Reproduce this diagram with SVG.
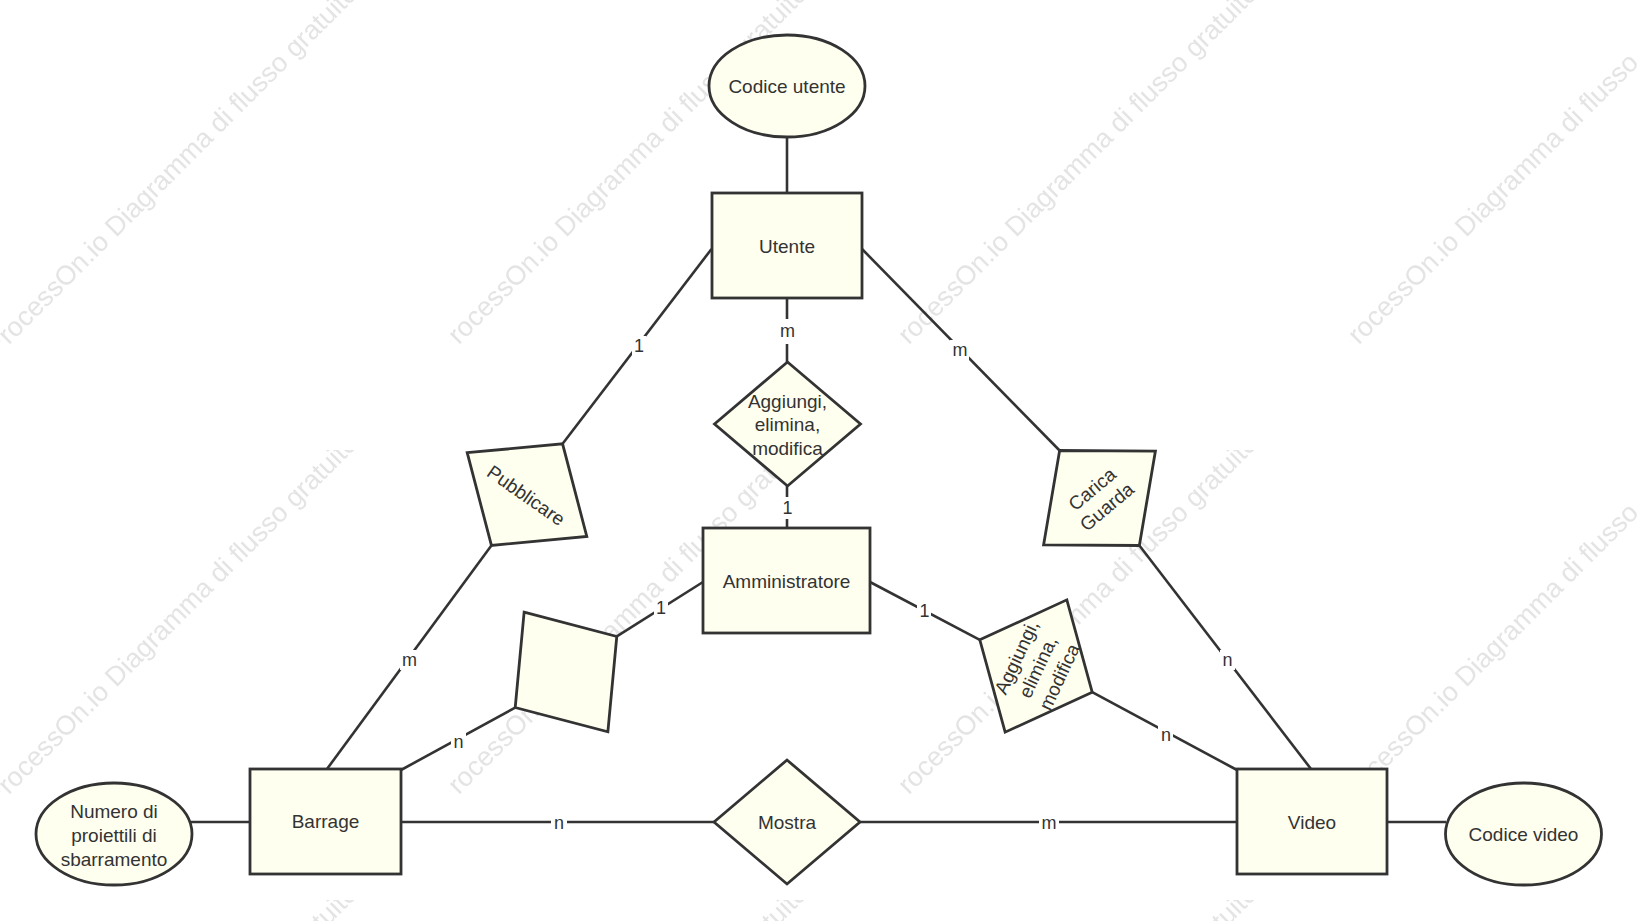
<svg xmlns="http://www.w3.org/2000/svg" width="1638" height="921" viewBox="0 0 1638 921">
<style>
.n{fill:#FFFFF0;stroke:#333;stroke-width:2.8}
.t{font-family:"Liberation Sans",Arial,sans-serif;font-size:19px;fill:#333;text-anchor:middle;dominant-baseline:central}
.c line{stroke:#333;stroke-width:2.6}
.lb{fill:#fff}
.l{font-family:"Liberation Sans",Arial,sans-serif;font-size:18px;fill:#333;text-anchor:middle;dominant-baseline:central}
.wm{font-family:"Liberation Sans",Arial,sans-serif;font-size:27px;fill:#e4e4e4}
</style>
<defs>
<pattern id="wmp" patternUnits="userSpaceOnUse" x="0" y="0" width="450" height="450">
<text class="wm" transform="translate(-4,358) rotate(-45)">ProcessOn.io Diagramma di flusso gratuito</text>
</pattern>
<polygon id="dia" points="-73,0 0,-62 73,0 0,62"/>
</defs>
<rect width="1638" height="921" fill="#fff"/>
<rect width="1638" height="921" fill="url(#wmp)"/>
<g id="connectors" class="c">
<line x1="787" y1="137" x2="787" y2="193"/>
<line x1="787" y1="298" x2="787" y2="362"/>
<line x1="787" y1="486" x2="787" y2="528"/>
<line x1="711.5" y1="249" x2="562.6" y2="443.8"/>
<line x1="491.4" y1="545.4" x2="327" y2="769"/>
<line x1="703" y1="582" x2="616.8" y2="636.4"/>
<line x1="515.2" y1="707.6" x2="401" y2="770"/>
<line x1="862" y1="249" x2="1059.6" y2="450.5"/>
<line x1="1139.4" y1="545.5" x2="1311" y2="769"/>
<line x1="870" y1="582" x2="979.8" y2="639.8"/>
<line x1="1092.2" y1="692.2" x2="1237" y2="770"/>
<line x1="401" y1="822" x2="714" y2="822"/>
<line x1="860" y1="822" x2="1237" y2="822"/>
<line x1="191" y1="822" x2="250" y2="822"/>
<line x1="1387" y1="822" x2="1446" y2="822"/>
<g id="labels">
<rect class="lb" x="778" y="319" width="19" height="25"/><text class="l" x="787.5" y="331">m</text>
<rect class="lb" x="780" y="497" width="15" height="22"/><text class="l" x="787.5" y="508">1</text>
<rect class="lb" x="632" y="336" width="14" height="20"/><text class="l" x="639" y="346">1</text>
<rect class="lb" x="400" y="650" width="19" height="20"/><text class="l" x="409.5" y="660">m</text>
<rect class="lb" x="654" y="598" width="14" height="20"/><text class="l" x="661" y="608">1</text>
<rect class="lb" x="451" y="732" width="15" height="20"/><text class="l" x="458.6" y="742">n</text>
<rect class="lb" x="950" y="340" width="19" height="20"/><text class="l" x="960" y="350">m</text>
<rect class="lb" x="1220" y="650" width="15" height="20"/><text class="l" x="1227.5" y="660">n</text>
<rect class="lb" x="917" y="601" width="14" height="20"/><text class="l" x="924.5" y="611">1</text>
<rect class="lb" x="1158" y="725" width="15" height="20"/><text class="l" x="1166" y="735">n</text>
<rect class="lb" x="551" y="812" width="16" height="22"/><text class="l" x="559" y="823">n</text>
<rect class="lb" x="1039" y="812" width="20" height="22"/><text class="l" x="1049" y="823">m</text>
</g>
</g>
<g id="codice-utente"><ellipse class="n" cx="787" cy="86" rx="78" ry="51"/><text class="t" x="787" y="86">Codice utente</text></g>
<g id="utente"><rect class="n" x="712" y="193" width="150" height="105"/><text class="t" x="787" y="246">Utente</text></g>
<g id="aggiungi-centro"><use href="#dia" class="n" transform="translate(787.5,424)"/>
<text class="t" x="787.5" y="401">Aggiungi,</text><text class="t" x="787.5" y="424.5">elimina,</text><text class="t" x="787.5" y="448">modifica</text></g>
<g id="amministratore"><rect class="n" x="703" y="528" width="167" height="105"/><text class="t" x="786.5" y="581">Amministratore</text></g>
<g id="pubblicare"><use href="#dia" class="n" transform="translate(527,494.6) rotate(35)"/>
<text class="t" transform="translate(526,495.5) rotate(35)">Pubblicare</text></g>
<g id="relazione-vuota"><use href="#dia" class="n" transform="translate(566,672) rotate(55)"/></g>
<g id="carica-guarda"><use href="#dia" class="n" transform="translate(1099.5,498) rotate(-40)"/>
<g transform="translate(1099.5,498) rotate(-40)"><text class="t" x="0" y="-11.5">Carica</text><text class="t" x="0" y="11.5">Guarda</text></g></g>
<g id="aggiungi-destra"><use href="#dia" class="n" transform="translate(1036,666) rotate(-65)"/>
<g transform="translate(1038,667) rotate(-65)"><text class="t" x="0" y="-23.5">Aggiungi,</text><text class="t" x="0" y="0">elimina,</text><text class="t" x="0" y="23.5">modifica</text></g></g>
<g id="barrage"><rect class="n" x="250" y="769" width="151" height="105"/><text class="t" x="325.5" y="821.5">Barrage</text></g>
<g id="numero"><ellipse class="n" cx="114" cy="834" rx="78" ry="51"/>
<text class="t" x="114" y="811">Numero di</text><text class="t" x="114" y="835">proiettili di</text><text class="t" x="114" y="859">sbarramento</text></g>
<g id="mostra"><use href="#dia" class="n" transform="translate(787,822)"/><text class="t" x="787" y="822">Mostra</text></g>
<g id="video"><rect class="n" x="1237" y="769" width="150" height="105"/><text class="t" x="1312" y="822">Video</text></g>
<g id="codice-video"><ellipse class="n" cx="1523.5" cy="834" rx="78" ry="51"/><text class="t" x="1523.5" y="834">Codice video</text></g>
</svg>
